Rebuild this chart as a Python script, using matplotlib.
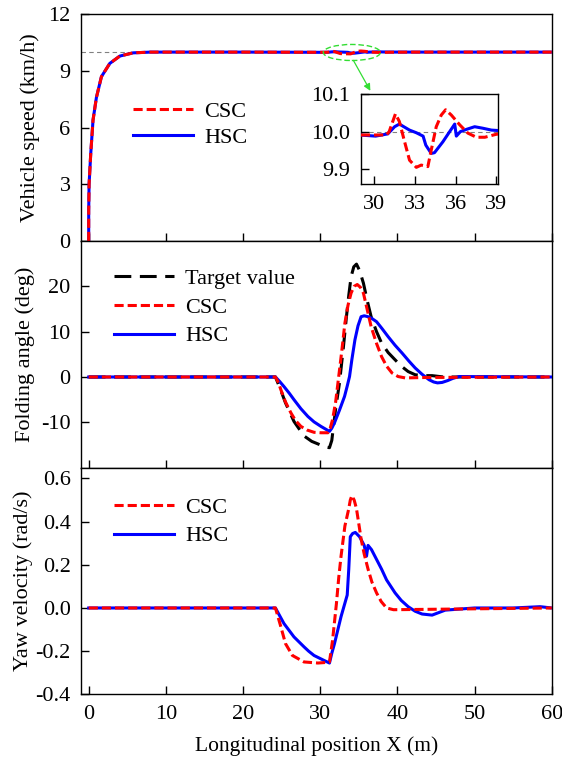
"""
plot.py
=======
Three stacked panels comparing CSC and HSC controllers along the
longitudinal position X: vehicle speed (with zoomed inset), folding
angle and yaw velocity.

Output:
  out.png
"""

import matplotlib.pyplot as plt
import matplotlib.ticker as mtick
from matplotlib.patches import Ellipse

print("Generating controller comparison figure...")

# ──────────────────────────────────────────────
# Data
# ──────────────────────────────────────────────
speed_csc_x = [0.0, 0.0, 0.05, 0.26, 0.56, 1.0, 1.65, 2.73, 4.03, 5.75, 8.0, 20.0,
               28.9, 30.9, 31.1, 31.56, 31.85, 32.2, 32.6, 33.1, 33.46, 33.95, 34.2,
               34.57, 34.94, 35.26, 35.68, 36.3, 36.9, 37.53, 38.15, 39.0, 42.0, 60.0]
speed_csc_y = [0.0, 1.6, 3.0, 4.6, 6.4, 7.6, 8.7, 9.4, 9.79, 9.96, 10.0, 10.0,
               9.991, 9.991, 10.0, 10.047, 10.027, 9.978, 9.924, 9.905, 9.911, 9.907, 9.951,
               10.013, 10.044, 10.058, 10.044, 10.018, 9.996, 9.985, 9.985, 9.993, 10.0, 10.0]

speed_hsc_x = [0.0, 0.0, 0.05, 0.26, 0.56, 1.0, 1.65, 2.73, 4.03, 5.75, 8.0, 20.0,
               28.9, 30.1, 31.0, 31.5, 31.85, 32.6, 33.1, 33.6, 33.8, 34.2, 34.44,
               35.06, 35.56, 35.93, 36.05, 36.35, 36.8, 37.4, 38.0, 38.64, 39.08, 42.0, 60.0]
speed_hsc_y = [0.0, 1.6, 3.0, 4.6, 6.4, 7.6, 8.7, 9.4, 9.79, 9.96, 10.0, 10.0,
               9.991, 9.988, 9.994, 10.013, 10.02, 10.004, 9.997, 9.988, 9.964, 9.942, 9.944,
               9.973, 10.0, 10.02, 9.988, 10.0, 10.006, 10.013, 10.009, 10.004, 10.003, 10.0, 10.0]

SPEED_TARGET = 10.0

fold_target_x = [0, 24.2, 24.8, 25.5, 26.6, 27.9, 28.9, 29.9, 30.6, 31.2, 31.5, 32.0,
                 32.5, 33.0, 33.4, 33.7, 34.0, 34.35, 34.7, 35.1, 35.6, 36.1, 36.6,
                 37.3, 37.95, 38.8, 39.7, 40.5, 41.4, 42.3, 43.2, 44.5, 46.0, 60]
fold_target_y = [0, 0, -2.5, -5.7, -9.8, -13.0, -14.2, -14.9, -15.4, -15.6, -14.0, -7.0,
                 -1.3, 6.5, 13.3, 18.0, 22.1, 24.3, 24.9, 23.5, 20.7, 16.8, 13.3,
                 10.0, 7.5, 5.4, 3.8, 2.4, 1.2, 0.5, 0.3, 0.3, 0.0, 0.0]

fold_csc_x = [0, 24.2, 24.6, 24.9, 25.5, 26.2, 26.8, 27.5, 28.3, 29.2, 30.1, 31.0,
              31.3, 31.6, 32.0, 32.3, 32.8, 33.2, 33.6, 34.0, 34.4, 34.8, 35.2,
              35.6, 36.1, 36.6, 37.3, 37.95, 38.6, 39.3, 40.1, 41.0, 44.0, 60]
fold_csc_y = [0, 0, -1.3, -2.8, -5.5, -7.9, -9.6, -10.9, -11.7, -12.2, -12.3, -12.3,
              -11.3, -9.4, -5.5, -1.3, 5.8, 11.9, 15.8, 18.5, 20.0, 20.4, 19.8,
              18.5, 14.8, 11.1, 7.4, 4.5, 2.4, 0.9, 0.1, -0.2, -0.1, 0]

fold_hsc_x = [0, 24.2, 24.7, 25.3, 26.0, 26.6, 27.5, 28.4, 29.2, 30.1, 30.7, 31.2,
              31.5, 31.85, 32.5, 33.15, 33.5, 33.8, 34.1, 34.5, 34.9, 35.3, 35.7,
              36.2, 36.7, 37.3, 38.0, 38.8, 39.7, 40.6, 41.5, 42.3, 43.2, 44.1,
              44.7, 45.2, 45.8, 46.5, 47.2, 48.0, 60]
fold_hsc_y = [0, 0, -0.9, -2.1, -3.6, -5.0, -7.0, -8.7, -9.9, -10.9, -11.5, -12.0,
              -11.3, -10.1, -7.3, -4.3, -2.0, 0.1, 3.8, 8.2, 11.3, 13.3, 13.5,
              13.3, 12.9, 12.2, 10.7, 8.9, 7.0, 5.3, 3.5, 2.0, 0.6, -0.6,
              -1.1, -1.3, -1.2, -0.8, -0.3, 0.1, 0.0]

yaw_csc_x = [0, 24.2, 24.9, 25.5, 26.4, 27.9, 29.7, 30.5, 31.2, 31.6, 32.1, 32.4,
             32.7, 33.2, 33.45, 33.7, 33.9, 34.1, 34.4, 34.7, 35.0, 35.3, 35.7,
             36.2, 36.7, 37.3, 37.9, 38.6, 39.5, 60]
yaw_csc_y = [0, 0, -0.087, -0.165, -0.22, -0.25, -0.255, -0.253, -0.25, -0.15, 0.02, 0.14,
             0.24, 0.38, 0.42, 0.46, 0.50, 0.52, 0.50, 0.46, 0.39, 0.32, 0.25,
             0.18, 0.12, 0.07, 0.03, 0.0, -0.008, 0.0]

yaw_hsc_x = [0, 24.2, 25.3, 26.6, 27.9, 28.5, 29.2, 30.5, 31.2, 31.5, 31.85, 32.7,
             33.5, 33.7, 33.9, 34.2, 34.55, 35.1, 35.7, 36.0, 36.2, 36.65, 37.3,
             37.95, 38.6, 39.7, 40.5, 41.4, 42.3, 43.2, 44.5, 46.2, 50, 55, 58.5, 60]
yaw_hsc_y = [0, 0, -0.072, -0.134, -0.18, -0.2, -0.22, -0.243, -0.255, -0.21, -0.165, -0.04,
             0.06, 0.18, 0.33, 0.345, 0.35, 0.33, 0.29, 0.24, 0.29, 0.27, 0.225,
             0.18, 0.13, 0.07, 0.035, 0.006, -0.015, -0.028, -0.033, -0.01, 0.0, 0.0, 0.006, 0.0]

# ──────────────────────────────────────────────
# Style
# ──────────────────────────────────────────────
plt.rcParams["font.family"] = ["Liberation Serif", "DejaVu Serif"]
plt.rcParams["axes.unicode_minus"] = False
TICK_FS = 16
LABEL_FS = 16
LEGEND_FS = 16
LW = 2.2
RED = "#ff0000"
BLUE = "#0000ff"
GREEN = "#33dd33"
CSC_DASH = (3.0, 1.3)
TARGET_DASH = (5.5, 2.8)


def style_axis(ax):
    ax.tick_params(direction="in", length=6, width=1.0, labelsize=TICK_FS,
                   top=False, right=False, pad=7.5)
    for sp in ax.spines.values():
        sp.set_linewidth(1.0)


fig, axes = plt.subplots(3, 1, figsize=(5.62, 7.58), dpi=100, sharex=True)
fig.subplots_adjust(left=0.1441, right=0.9817, top=0.9811, bottom=0.0840, hspace=0)
ax1, ax2, ax3 = axes

legend_kw = dict(loc="upper left", frameon=False, fontsize=LEGEND_FS,
                 handlelength=2.7, handletextpad=0.5, borderpad=0, borderaxespad=0)

# ── Panel 1: vehicle speed
ax1.axhline(SPEED_TARGET, color="grey", lw=0.8, ls=(0, (4, 3)), zorder=1)
ax1.plot(speed_hsc_x, speed_hsc_y, color=BLUE, lw=LW, label="HSC", zorder=3)
ax1.plot(speed_csc_x, speed_csc_y, color=RED, lw=LW, dashes=CSC_DASH, label="CSC", zorder=4)
ax1.set_ylim(0, 12)
ax1.yaxis.set_major_locator(mtick.MultipleLocator(3))
ax1.set_ylabel("Vehicle speed (km/h)", fontsize=LABEL_FS, labelpad=6)
h, l = ax1.get_legend_handles_labels()
ax1.legend(h[::-1], l[::-1], bbox_to_anchor=(0.11, 0.615), labelspacing=0.25, **legend_kw)

ell = Ellipse((34.1, 9.98), 7.4, 0.85, fill=False, edgecolor=GREEN,
              lw=1.0, ls=(0, (4, 2)), zorder=5)
ax1.add_patch(ell)
ax1.annotate("", xy=(36.5, 7.95), xytext=(34.3, 9.56),
             arrowprops=dict(arrowstyle="-|>", color=GREEN, lw=0.9,
                             mutation_scale=10, shrinkA=0, shrinkB=0))

# Inset zoom of speed
axin = fig.add_axes([0.6418, 0.7569, 0.2438, 0.1191])
axin.axhline(SPEED_TARGET, color="grey", lw=0.8, ls=(0, (4, 3)), zorder=1)
axin.plot(speed_hsc_x, speed_hsc_y, color=BLUE, lw=LW, zorder=3)
axin.plot(speed_csc_x, speed_csc_y, color=RED, lw=LW, dashes=CSC_DASH, zorder=4)
axin.set_xlim(29, 39.1)
axin.set_ylim(9.86, 10.1)
axin.set_xticks([30, 33, 36, 39])
axin.set_yticks([9.9, 10.0, 10.1])
axin.yaxis.set_major_formatter(mtick.FormatStrFormatter("%.1f"))
style_axis(axin)

# ── Panel 2: folding angle
ax2.plot(fold_target_x, fold_target_y, color="black", lw=LW, dashes=TARGET_DASH,
         label="Target value", zorder=2)
ax2.plot(fold_hsc_x, fold_hsc_y, color=BLUE, lw=LW, label="HSC", zorder=3)
ax2.plot(fold_csc_x, fold_csc_y, color=RED, lw=LW, dashes=CSC_DASH, label="CSC", zorder=4)
ax2.set_ylim(-20, 30)
ax2.set_yticks([-10, 0, 10, 20])
ax2.set_ylabel("Folding angle (deg)", fontsize=LABEL_FS, labelpad=4)
h, l = ax2.get_legend_handles_labels()
order = [0, 2, 1]
ax2.legend([h[i] for i in order], [l[i] for i in order],
           bbox_to_anchor=(0.07, 0.88), labelspacing=0.37, **legend_kw)

# ── Panel 3: yaw velocity
ax3.plot(yaw_hsc_x, yaw_hsc_y, color=BLUE, lw=LW, label="HSC", zorder=3)
ax3.plot(yaw_csc_x, yaw_csc_y, color=RED, lw=LW, dashes=CSC_DASH, label="CSC", zorder=4)
ax3.set_ylim(-0.4, 0.65)
ax3.set_yticks([-0.4, -0.2, 0.0, 0.2, 0.4, 0.6])
ax3.yaxis.set_major_formatter(mtick.FormatStrFormatter("%.1f"))
ax3.set_ylabel("Yaw velocity (rad/s)", fontsize=LABEL_FS, labelpad=2)
h, l = ax3.get_legend_handles_labels()
ax3.legend(h[::-1], l[::-1], bbox_to_anchor=(0.07, 0.87), labelspacing=0.37, **legend_kw)

ax3.set_xlim(-1, 60)
ax3.set_xticks([0, 10, 20, 30, 40, 50, 60])
ax3.set_xlabel("Longitudinal position X (m)", fontsize=15.5, labelpad=9)

for ax in axes:
    style_axis(ax)

fig.savefig("out.png", dpi=100)
print("Saved out.png")
